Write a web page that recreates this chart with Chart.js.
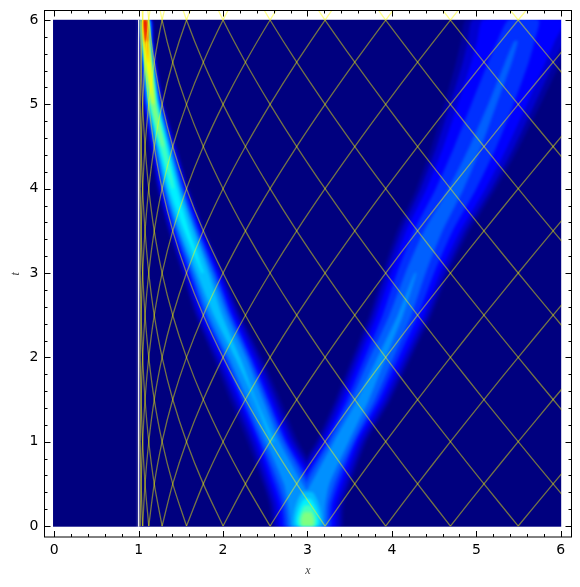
<!DOCTYPE html>
<html>
<head>
<meta charset="utf-8">
<style>
html,body{margin:0;padding:0;background:#fff;}
canvas{display:block;}
</style>
<script src="https://cdn.jsdelivr.net/npm/chart.js@4"></script>
</head>
<body>
<canvas id="mycanvas" width="580" height="587"></canvas>
<script>
var xTicks = [0, 1, 2, 3, 4, 5, 6];
var yTicks = [0, 1, 2, 3, 4, 5, 6];

// x of the light rays where they cross each half unit of t, one entry per half step along a ray
var rayKnots = [1.018, 1.029, 1.0475, 1.076, 1.12, 1.185, 1.278, 1.404, 1.567, 1.766, 2.0, 2.265,
	2.557, 2.872, 3.208, 3.56, 3.926, 4.304, 4.693, 5.09, 5.496, 5.909, 6.327, 6.751, 7.18];
// index into rayKnots at t = 0, can be before the list starts
var rightRayStarts = [-10, -8, -6, -4, -2, 0, 2, 4, 6, 8, 10, 12, 14, 16, 18, 20];
var leftRayStarts = [2, 4, 6, 8, 10, 12, 14, 16, 18, 20, 22, 24, 26, 28, 30, 32];

// the two pulses, read at these t rows
var tRows = [0, 0.25, 0.5, 1, 1.5, 2, 2.5, 3, 3.5, 4, 4.5, 5, 5.5, 5.75, 6];
var leftCenter = [3.0, 2.93, 2.83, 2.59, 2.38, 2.17, 1.94, 1.76, 1.57, 1.41, 1.29, 1.175, 1.115, 1.09, 1.075];
var rightCenter = [3.0, 3.05, 3.15, 3.4, 3.66, 3.88, 4.1, 4.28, 4.49, 4.76, 4.99, 5.19, 5.38, 5.47, 5.56];

var levelColors = ['#0000a0', '#0000d0', '#0000ff', '#0030ff', '#0060ff', '#0090ff', '#00c0ff', '#00f0ff',
	'#40ffc0', '#80ff80', '#c0ff40', '#ffff00', '#ffa000', '#ff4000', '#e00000'];

// half width of each colour level along the left pulse
var leftWidths = [
	[.42, .38, .36, .30, .30, .29, .27, .25, .22, .19, .16, .13, .10, .09, .085],
	[.38, .34, .32, .25, .25, .25, .24, .22, .20, .17, .145, .115, .09, .08, .078],
	[.33, .29, .27, .20, .20, .20, .20, .19, .17, .15, .125, .10, .08, .072, .07],
	[.28, .24, .22, .16, .16, .16, .165, .16, .145, .13, .11, .09, .07, .065, .06],
	[.24, .20, .17, .13, .13, .135, .14, .135, .125, .11, .095, .08, .06, .057, .055],
	[.20, .16, .11, .08, .09, .10, .105, .105, .10, .09, .08, .065, .05, .05, .048],
	[null, null, null, .02, .01, .03, .05, .07, .08, .075, .065, .055, .045, .044, .042],
	[null, null, null, null, null, null, null, .01, .03, .05, .05, .045, .04, .038, .036],
	[null, null, null, null, null, null, null, null, null, .01, .035, .037, .035, .033, .03],
	[null, null, null, null, null, null, null, null, null, null, .012, .03, .032, .03, .028],
	[null, null, null, null, null, null, null, null, null, null, null, .012, .03, .028, .026],
	[null, null, null, null, null, null, null, null, null, null, null, .002, .026, .026, .024],
	[null, null, null, null, null, null, null, null, null, null, null, null, .003, .021, .022],
	[null, null, null, null, null, null, null, null, null, null, null, null, null, .012, .019],
	[null, null, null, null, null, null, null, null, null, null, null, null, null, .005, .015]
];

// half width of each colour level along the right pulse
var rightWidths = [
	[.42, .38, .36, .30, .33, .35, .37, .39, .43, .47, .52, .57, .62, .65, .68],
	[.38, .34, .32, .26, .29, .31, .33, .35, .38, .42, .46, .50, .54, .57, .60],
	[.33, .29, .27, .21, .24, .26, .28, .29, .32, .35, .38, .41, .44, .46, .48],
	[.28, .24, .22, .17, .19, .20, .21, .22, .23, .24, .25, .25, .24, .22, .18],
	[.24, .20, .17, .14, .14, .14, .13, .12, .11, .09, .07, .05, .04, .02, null],
	[.20, .16, .11, .09, .07, .05, .03, .01, null, null, null, null, null, null, null]
];

// the bright blob where the pulses start, around x = 3
var headRows = [0, 0.08, 0.16, 0.24, 0.32, 0.4];
var headCenter = [3.0, 3.0, 3.0, 3.0, 3.0, 3.0];
var headWidths = {
	6: [.17, .17, .16, .14, .11, .06],
	7: [.13, .135, .12, .09, .04, null],
	8: [.10, .105, .08, .04, null, null],
	9: [.07, .075, .045, null, null, null]
};

var xMinor = [];
var yMinor = [];
for (var m = 0; m <= 30; m++) {
	if (m % 5 != 0) {
		xMinor.push(m / 5);
		yMinor.push(m / 5);
	}
}

var datasets = [];

function addArea(points, color, order, tension) {
	datasets.push({
		data: points,
		showLine: true,
		fill: 'shape',
		backgroundColor: color,
		borderWidth: 0,
		pointRadius: 0,
		tension: tension,
		order: order
	});
}

// one polygon for each unbroken run of rows in a level
function addBand(rows, center, widths, color, order) {
	var up = [];
	var down = [];
	for (var i = 0; i <= rows.length; i++) {
		if (i < rows.length && widths[i] !== null) {
			up.push({x: center[i] - widths[i], y: rows[i]});
			down.unshift({x: center[i] + widths[i], y: rows[i]});
		} else if (up.length) {
			addArea(up.concat(down), color, order, 0.2);
			up = [];
			down = [];
		}
	}
}

function addRay(start, step) {
	var pts = [];
	for (var k = 0; k <= 13; k++) {
		var knot = rayKnots[start + step * k];
		if (knot !== undefined) pts.push({x: knot, y: k * 0.5});
	}
	datasets.push({
		data: pts,
		showLine: true,
		borderColor: 'rgba(255,255,0,0.45)',
		borderWidth: 1.3,
		pointRadius: 0,
		tension: 0.3,
		clip: {left: 0, right: -10, top: 0, bottom: -10},
		order: 1
	});
}

// background of the right part
addArea([{x: 1, y: -0.1}, {x: 6.1, y: -0.1}, {x: 6.1, y: 6.1}, {x: 1, y: 6.1}], '#00007f', 100, 0);
// levels painted low to high across both pulses
for (var l = 0; l < levelColors.length; l++) {
	if (rightWidths[l]) addBand(tRows, rightCenter, rightWidths[l], levelColors[l], 90 - l);
	if (leftWidths[l]) addBand(tRows, leftCenter, leftWidths[l], levelColors[l], 90 - l);
	if (headWidths[l]) addBand(headRows, headCenter, headWidths[l], levelColors[l], 90 - l);
}
// left part and the white line at x = 1
addArea([{x: -0.1, y: -0.1}, {x: 1.0, y: -0.1}, {x: 1.0, y: 6.1}, {x: -0.1, y: 6.1}], '#00007f', 20, 0);
datasets.push({
	data: [{x: 1, y: -0.008}, {x: 1, y: 6.003}],
	showLine: true,
	borderColor: '#f4f4f4',
	borderWidth: 1.2,
	pointRadius: 0,
	order: 10
});
for (var r = 0; r < rightRayStarts.length; r++) addRay(rightRayStarts[r], 1);
for (var q = 0; q < leftRayStarts.length; q++) addRay(leftRayStarts[q], -1);

// the fills go first with a soft edge, then the spill past the heat rectangle is wiped, rays come after
var heatEdges = {
	id: 'heatEdges',
	beforeRender: function(chart) {
		chart.ctx.filter = 'blur(1.4px)';
	},
	beforeDraw: function(chart) {
		var ctx = chart.ctx;
		ctx.filter = 'none';
		var l = chart.scales.x.getPixelForValue(-0.014);
		var r = chart.scales.x.getPixelForValue(6.005);
		var t = chart.scales.y.getPixelForValue(6.003);
		var b = chart.scales.y.getPixelForValue(-0.008);
		ctx.save();
		ctx.fillStyle = '#fff';
		ctx.fillRect(0, 0, 580, t);
		ctx.fillRect(0, b, 580, 587 - b);
		ctx.fillRect(0, 0, l, 587);
		ctx.fillRect(r, 0, 580 - r, 587);
		ctx.restore();
	}
};

var tickMarks = {
	id: 'tickMarks',
	afterDatasetsDraw: function(chart) {
		var ctx = chart.ctx;
		var a = chart.chartArea;
		var sx = chart.scales.x;
		var sy = chart.scales.y;
		ctx.save();
		ctx.strokeStyle = '#000';
		ctx.lineWidth = 1;
		function tx(v, len) {
			var p = Math.round(sx.getPixelForValue(v)) + 0.5;
			ctx.beginPath();
			ctx.moveTo(p, a.bottom); ctx.lineTo(p, a.bottom - len);
			ctx.moveTo(p, a.top); ctx.lineTo(p, a.top + len);
			ctx.stroke();
		}
		function ty(v, len) {
			var p = Math.round(sy.getPixelForValue(v)) + 0.5;
			ctx.beginPath();
			ctx.moveTo(a.left, p); ctx.lineTo(a.left + len, p);
			ctx.moveTo(a.right, p); ctx.lineTo(a.right - len, p);
			ctx.stroke();
		}
		xMinor.forEach(function(v) { tx(v, 3); });
		yMinor.forEach(function(v) { ty(v, 3); });
		xTicks.forEach(function(v) { tx(v, 6); });
		yTicks.forEach(function(v) { ty(v, 6); });
		ctx.strokeRect(a.left, a.top, a.right - a.left, a.bottom - a.top);
		ctx.restore();
	}
};

var tickFont = {family: '"DejaVu Sans"', size: 14};
var titleFont = {family: '"Liberation Serif"', size: 12, style: 'italic'};

new Chart(document.getElementById('mycanvas'), {
	type: 'scatter',
	data: {datasets: datasets},
	plugins: [heatEdges, tickMarks],
	options: {
		responsive: false,
		animation: false,
		layout: {padding: {top: 10.5, right: 8.5}},
		plugins: {legend: {display: false}, tooltip: {enabled: false}, filler: {drawTime: 'beforeDraw'}},
		scales: {
			x: {
				type: 'linear',
				min: -0.115,
				max: 6.127,
				afterBuildTicks: function(s) { s.ticks = xTicks.map(function(v) { return {value: v}; }); },
				afterFit: function(s) { s.height = 50; s.paddingLeft = 0; s.paddingRight = 0; },
				grid: {display: false, drawTicks: false, z: 1},
				border: {display: false},
				ticks: {color: '#000', font: tickFont, padding: 5, maxRotation: 0, z: 1},
				title: {display: true, text: 'x', color: '#444', font: titleFont, padding: {top: 0, bottom: 9}}
			},
			y: {
				type: 'linear',
				min: -0.13,
				max: 6.113,
				afterBuildTicks: function(s) { s.ticks = yTicks.map(function(v) { return {value: v}; }); },
				afterFit: function(s) { s.width = 44.5; s.paddingTop = 0; s.paddingBottom = 0; },
				grid: {display: false, drawTicks: false, z: 1},
				border: {display: false},
				ticks: {color: '#000', font: tickFont, padding: 6, z: 1},
				title: {display: true, text: 't', color: '#444', font: titleFont, padding: {top: 9, bottom: 0}}
			}
		}
	}
});
</script>
</body>
</html>
